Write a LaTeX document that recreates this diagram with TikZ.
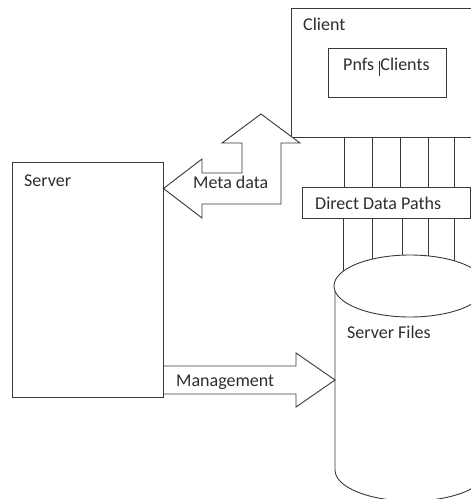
\documentclass[tikz,border=0pt]{standalone}
\usepackage{fontspec}
\setmainfont{Carlito}
\begin{document}
\begin{tikzpicture}[x=1pt,y=-1pt,
  line/.style={draw=black!78,line width=0.9pt},
  box/.style={line,rectangle,inner sep=0pt,fill=white},
  lbl/.style={anchor=base west,inner sep=0pt,text=black!82,font=\fontsize{18}{21}\selectfont}]
\useasboundingbox (0,0) rectangle (471,499);
\clip (0,0) rectangle (471,499);
% Client box and inner box
\node[box,minimum width=189pt,minimum height=129pt] (client) at (385.5,72.5) {};
\node[lbl] (clienttxt) at (303,30) {Client};
\node[box,minimum width=118pt,minimum height=49pt] (pnfs) at (387,72.5) {};
\node[lbl] (pnfstxt) at (343,70) {Pnfs \hspace{1pt}\rule[-6pt]{0.7pt}{15pt}\hspace{0.5pt}Clients};
% Server box
\node[box,minimum width=151pt,minimum height=235pt] (server) at (87.5,279.5) {};
\node[lbl] (servertxt) at (24,186) {Server};
% Cylinder (server files)
\coordinate (cyltop) at (410,286);
\coordinate (cylbot) at (410,470);
\path[line] (335,286) -- (335,470) arc[start angle=180,end angle=360,x radius=76,y radius=-31] -- (486,286);
\path[line,fill=white] (cyltop) ellipse[x radius=76,y radius=31];
\node[lbl] (filestxt) at (347,338) {Server Files};
% Direct data paths box
\node[box,minimum width=168pt,minimum height=31pt] (ddp) at (386,202.5) {};
\node[lbl] (ddptxt) at (315,209) {Direct Data Paths};
\foreach \xa/\xb in {344/343,372/372,400/402,428/428,454/454}{
  \pgfmathsetmacro\ye{286-31*sqrt(1-((\xb-410)/76)^2)}
  \path[line] (client.south -| \xa,0) -- (ddp.north -| \xa,0);
  \path[line] (ddp.south -| \xb,0) -- (\xb,\ye);
}
% Meta data arrow
\path[line,fill=white] (server.east |- 0,188.5) -- (202,159) -- (202,173) -- (242,173) -- (242,143) -- (222,143)
  -- (261,114) -- (300,143) -- (281,143) -- (281,204) -- (202,204) -- (202,218) -- cycle;
\node[lbl] (metatxt) at (193,188) {Meta data};
% Management arrow
\coordinate (mtip) at (335,380);
\path[line] (server.east |- 0,366) -- (296,366) -- (296,353) -- (mtip) -- (296,407) -- (296,394) -- (server.east |- 0,394);
\node[lbl] (mgmttxt) at (176,386) {Management};
\end{tikzpicture}
\end{document}
